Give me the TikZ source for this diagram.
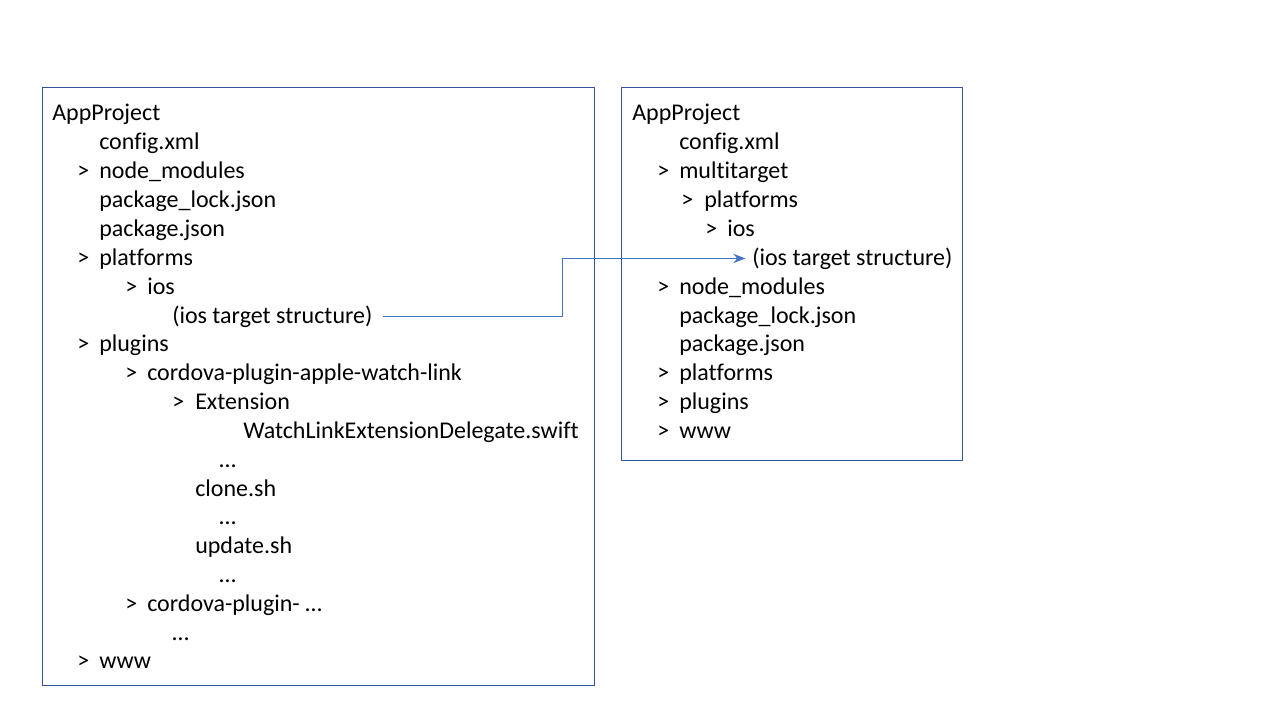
\documentclass[tikz,border=0pt]{standalone}
\usepackage{fontspec}
\setmainfont{Carlito}[Ligatures=NoCommon]
\usetikzlibrary{arrows.meta,calc}
\definecolor{boxblue}{HTML}{2F5597}
\definecolor{linkblue}{HTML}{4472C4}
\begin{document}
\begin{tikzpicture}[
  x=0.75pt, y=-0.75pt,
  panel/.style={draw=boxblue, line width=0.75pt},
  entry/.style={anchor=mid west, inner sep=0pt, yshift=-3.75pt, font=\fontsize{18}{21.6}\selectfont},
  link/.style={draw=linkblue, line width=0.75pt, -{Stealth[length=9pt,width=7pt]}}
]
\useasboundingbox (0,0) rectangle (1280,720);

% left tree
\draw[panel] (42,88) rectangle (594,685);
\node[entry] at (52,112) (lroot) {AppProject};
\node[entry] at (99,141) (lconfig) {config.xml};
\node[entry] at (77,170) (lnmark) {>};
\node[entry] at (99,170) (lnode) {node\_modules};
\node[entry] at (99,199) (llock) {package\_lock.json};
\node[entry] at (99,228) (lpkg) {package.json};
\node[entry] at (77,257) (lplmark) {>};
\node[entry] at (99,257) (lplat) {platforms};
\node[entry] at (125,286) (liosmark) {>};
\node[entry] at (147,286) (lios) {ios};
\node[entry] at (172,315) (liosts) {(ios target structure)};
\node[entry] at (77,343) (lplgmark) {>};
\node[entry] at (99,343) (lplug) {plugins};
\node[entry] at (125,372) (lwatchmark) {>};
\node[entry] at (147,372) (lwatch) {cordova-plugin-apple-watch-link};
\node[entry] at (172,401) (lextmark) {>};
\node[entry] at (195,401) (lext) {Extension};
\node[entry] at (243,430) (ldeleg) {WatchLinkExtensionDelegate.swift};
\node[entry] at (219,459) (ldots1) {…};
\node[entry] at (195,488) (lclone) {clone.sh};
\node[entry] at (219,516) (ldots2) {…};
\node[entry] at (195,545) (lupdate) {update.sh};
\node[entry] at (219,574) (ldots3) {…};
\node[entry] at (125,603) (lothmark) {>};
\node[entry] at (147,603) (lother) {cordova-plugin- …};
\node[entry] at (172,632) (ldots4) {…};
\node[entry] at (77,660) (lwwwmark) {>};
\node[entry] at (99,660) (lwww) {www};

% right tree
\draw[panel] (621,88) rectangle (962,460);
\node[entry] at (632,112) (rroot) {AppProject};
\node[entry] at (679,141) (rconfig) {config.xml};
\node[entry] at (657,170) (rmtmark) {>};
\node[entry] at (679,170) (rmulti) {multitarget};
\node[entry] at (681,199) (rplmark) {>};
\node[entry] at (704,199) (rplat) {platforms};
\node[entry] at (705,228) (riosmark) {>};
\node[entry] at (727,228) (rios) {ios};
\node[entry] at (752,257) (riosts) {(ios target structure)};
\node[entry] at (657,286) (rnmark) {>};
\node[entry] at (679,286) (rnode) {node\_modules};
\node[entry] at (679,315) (rlock) {package\_lock.json};
\node[entry] at (679,343) (rpkg) {package.json};
\node[entry] at (657,372) (rpl2mark) {>};
\node[entry] at (679,372) (rplat2) {platforms};
\node[entry] at (657,401) (rplgmark) {>};
\node[entry] at (679,401) (rplug) {plugins};
\node[entry] at (657,430) (rwwwmark) {>};
\node[entry] at (679,430) (rwww) {www};

\draw[link, shorten <=7.5pt, shorten >=5pt] (liosts.east) -| ($(liosts.east)!.5!(riosts.west)$) |- (riosts.west);
\end{tikzpicture}
\end{document}
